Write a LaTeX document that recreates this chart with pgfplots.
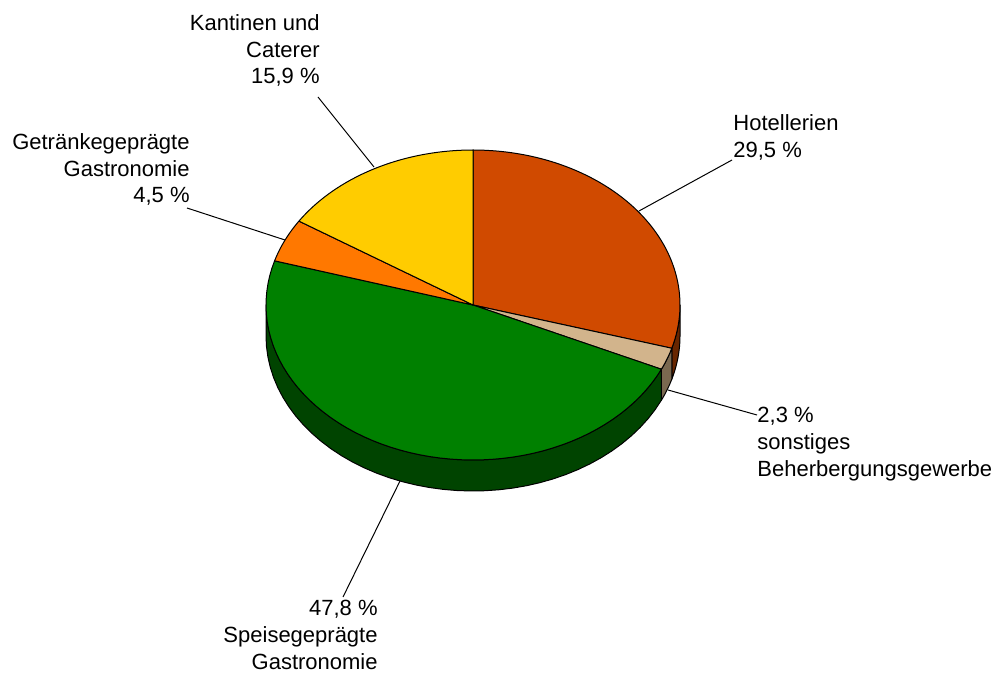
\documentclass[border=0pt]{standalone}
\usepackage{pgfplots}
\pgfplotsset{compat=1.18}
\usepackage{pgfplotstable}
\usepackage{fontspec}
\setmainfont{Liberation Sans}

\definecolor{cHot}{RGB}{208,74,0}
\definecolor{cHotS}{RGB}{104,38,0}
\definecolor{cTan}{RGB}{210,180,140}
\definecolor{cTanS}{RGB}{122,104,80}
\definecolor{cGreen}{RGB}{0,128,0}
\definecolor{cGreenS}{RGB}{0,68,0}
\definecolor{cOrange}{RGB}{255,120,0}
\definecolor{cYellow}{RGB}{255,204,0}

\pgfplotstableread{
share
29.5
2.3
47.8
4.5
15.9
}\piedata

\def\pcx{473}
\def\pcy{370}
\def\prx{207}
\def\pry{155}
\def\pdep{31}

\newcommand\slice[3]{%
\addplot[fill=#3, draw=black, line width=0.5pt, line join=round, domain=0:61, samples=62, variable=\t]
 ({(\t<0.5) ? \pcx : \pcx+\prx*cos((#1)+(\t-1)*((#2)-(#1))/60)},
  {(\t<0.5) ? \pcy : \pcy+\pry*sin((#1)+(\t-1)*((#2)-(#1))/60)}) -- cycle;}

\newcommand\wall[3]{%
\addplot[fill=#3, draw=black, line width=0.5pt, line join=round, domain=0:81, samples=82, variable=\t]
 ({(\t<40.5) ? \pcx+\prx*cos((#1)+\t*((#2)-(#1))/40) : \pcx+\prx*cos((#2)-(\t-41)*((#2)-(#1))/40)},
  {(\t<40.5) ? \pcy+\pry*sin((#1)+\t*((#2)-(#1))/40) : \pcy-\pdep+\pry*sin((#2)-(\t-41)*((#2)-(#1))/40)}) -- cycle;}

\newcommand\lbl{\fontsize{11pt}{13.4pt}\selectfont}

\begin{document}
\begin{tikzpicture}
\pgfplotstablegetelem{0}{share}\of\piedata \let\vA\pgfplotsretval
\pgfplotstablegetelem{1}{share}\of\piedata \let\vB\pgfplotsretval
\pgfplotstablegetelem{2}{share}\of\piedata \let\vC\pgfplotsretval
\pgfplotstablegetelem{3}{share}\of\piedata \let\vD\pgfplotsretval
\pgfplotstablegetelem{4}{share}\of\piedata \let\vE\pgfplotsretval
\pgfmathsetmacro\aA{90}
\pgfmathsetmacro\aB{\aA-3.6*\vA}
\pgfmathsetmacro\aC{\aB-3.6*\vB}
\pgfmathsetmacro\aD{\aC-3.6*\vC}
\pgfmathsetmacro\aE{\aD-3.6*\vD}
\pgfmathsetmacro\aF{\aE-3.6*\vE}
\begin{axis}[scale only axis, width=497.5pt, height=337.5pt,
  xmin=0, xmax=995, ymin=0, ymax=675, hide axis, clip=false,
  xtick=\empty, ytick=\empty]
% side walls (front half only)
\wall{\aB}{0}{cHotS}
\wall{\aC}{\aB}{cTanS}
\wall{-180}{\aC}{cGreenS}
% top face
\slice{\aA}{\aB}{cHot}
\slice{\aB}{\aC}{cTan}
\slice{\aC}{\aD}{cGreen}
\slice{\aD}{\aE}{cOrange}
\slice{\aE}{\aF}{cYellow}
% leader lines
\addplot[black, line width=0.5pt] coordinates {(318,578) (374,508)};
\addplot[black, line width=0.5pt] coordinates {(187,467) (285,435)};
\addplot[black, line width=0.5pt] coordinates {(732,515) (639,464)};
\addplot[black, line width=0.5pt] coordinates {(757,260) (668,285)};
\addplot[black, line width=0.5pt] coordinates {(343,78) (400,194)};
% labels
\node[anchor=north east, align=right, inner sep=0pt, font=\lbl] at (axis cs:320,661) {Kantinen und\\Caterer\\15,9 \%};
\node[anchor=north east, align=right, inner sep=0pt, font=\lbl] at (axis cs:190,542) {Getränkegeprägte\\Gastronomie\\4,5 \%};
\node[anchor=north west, align=left, inner sep=0pt, font=\lbl] at (axis cs:733,561) {Hotellerien\\29,5 \%};
\node[anchor=north west, align=left, inner sep=0pt, font=\lbl] at (axis cs:757,268) {2,3 \%\\sonstiges\\Beherbergungsgewerbe};
\node[anchor=north east, align=right, inner sep=0pt, font=\lbl] at (axis cs:378,75) {47,8 \%\\Speisegeprägte\\Gastronomie};
\coordinate (bbBL) at (axis cs:0,0);
\coordinate (bbTR) at (axis cs:995,675);
\end{axis}
\pgfresetboundingbox
\path[use as bounding box] (bbBL) rectangle (bbTR);
\end{tikzpicture}
\end{document}
